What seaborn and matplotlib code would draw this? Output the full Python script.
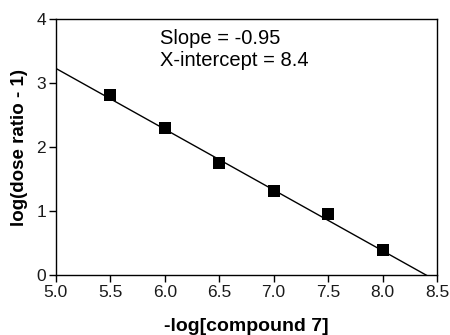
import matplotlib
matplotlib.use("Agg")
import matplotlib.pyplot as plt
import seaborn as sns
import numpy as np
import pandas as pd

log_conc = [5.5, 6.0, 6.5, 7.0, 7.5, 8.0]
log_dr = [2.81, 2.30, 1.75, 1.32, 0.96, 0.39]
slope = -0.95
x_intercept = 8.4
line_x = [5.0, 8.42]
x_ticks = [5.0, 5.5, 6.0, 6.5, 7.0, 7.5, 8.0, 8.5]
y_ticks = [0, 1, 2, 3, 4]

sns.set_theme(style="ticks")
plt.rcParams['font.family'] = ['Liberation Sans', 'DejaVu Sans']
plt.rcParams['text.color'] = 'black'
plt.rcParams['axes.labelcolor'] = 'black'

fig = plt.figure(figsize=(4.5, 3.35), dpi=100)
ax = fig.add_axes([0.124, 0.179, 0.847, 0.764])

df = pd.DataFrame({"x": log_conc, "y": log_dr})
lx = np.array(line_x)
ly = slope * (lx - x_intercept)
ax.plot(lx, ly, color="black", lw=1.0)
sns.scatterplot(data=df, x="x", y="y", marker="s", s=72, color="black",
                edgecolor="black", linewidth=0, ax=ax, zorder=3)

ax.set_xlim(5.0, 8.5)
ax.set_ylim(0, 4)
ax.set_xticks(x_ticks)
ax.set_xticklabels([f"{t:.1f}" for t in x_ticks])
ax.set_yticks(y_ticks)
ax.tick_params(labelsize=12.5, width=1, length=5, color="black", labelcolor="#1a1a1a", pad=2)
for s in ax.spines.values():
    s.set_linewidth(1.0)
    s.set_color("black")

ax.set_xlabel("-log[compound 7]", fontsize=14, fontweight="bold", labelpad=13)
ax.set_ylabel("log(dose ratio - 1)", fontsize=13.5, fontweight="bold", labelpad=6)

ax.text(0.273, 0.96, "Slope = -0.95", transform=ax.transAxes, fontsize=14.5, va="top", color="black")
ax.text(0.273, 0.875, "X-intercept = 8.4", transform=ax.transAxes, fontsize=14.5, va="top", color="black")

fig.savefig("out.png", dpi=100)
